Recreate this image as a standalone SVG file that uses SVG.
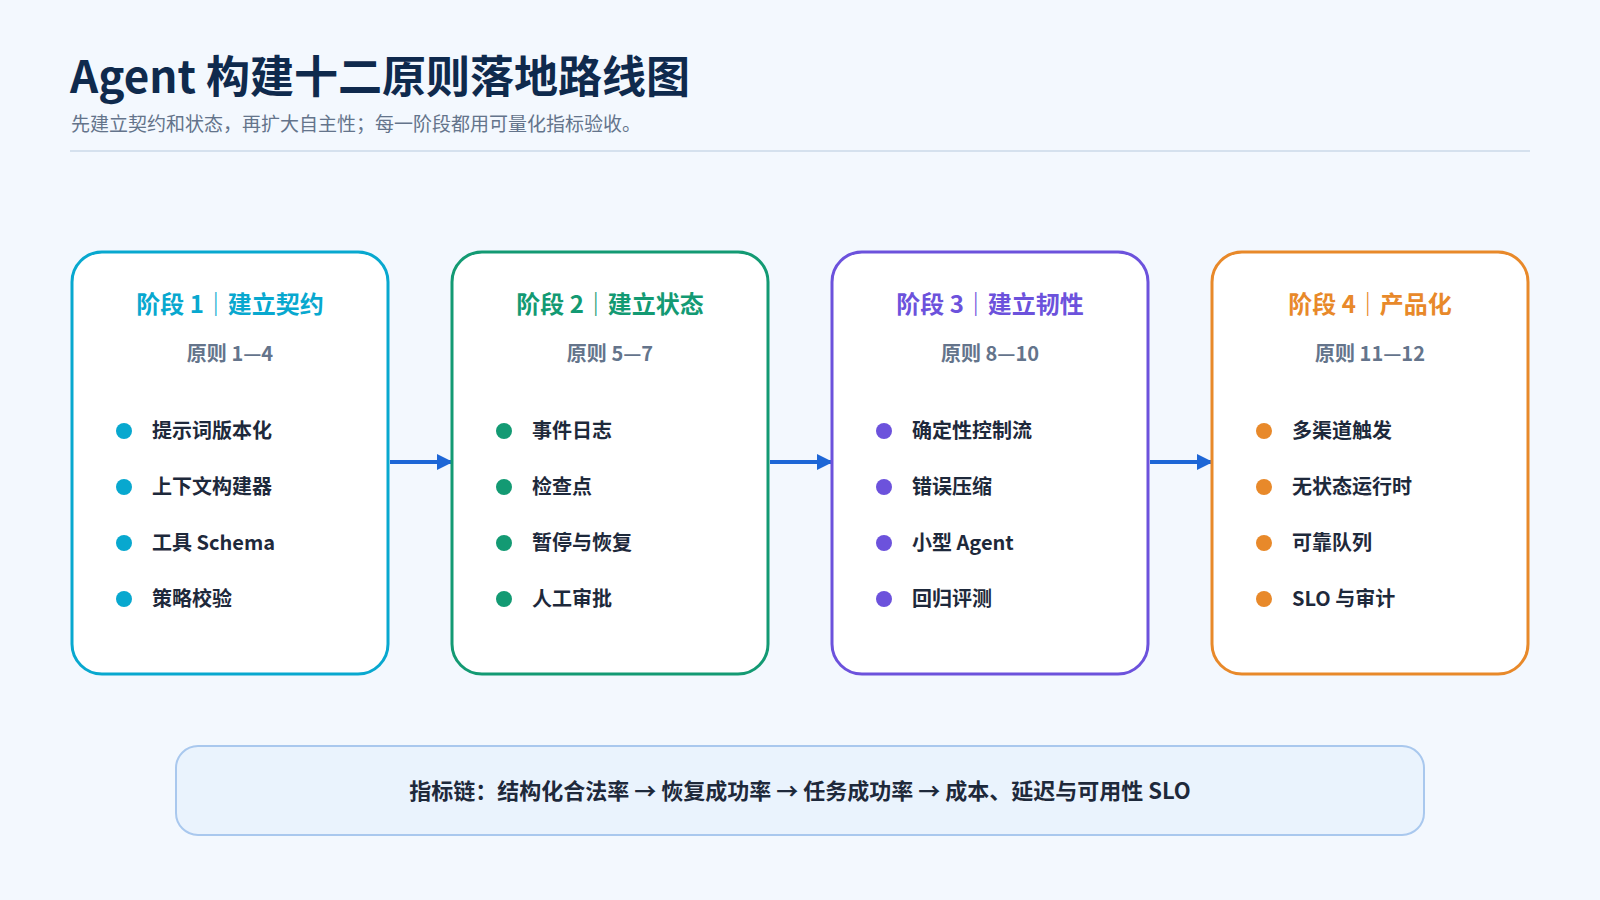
<svg xmlns="http://www.w3.org/2000/svg" width="1600" height="900" viewBox="0 0 1600 900">
<defs>
<marker id="ah" markerWidth="10" markerHeight="10" refX="9" refY="5" orient="auto" markerUnits="userSpaceOnUse"><path d="M0,0 L16,5 L0,10 Z" transform="scale(0.6,1)" fill="#1d66d6"/></marker>
<marker id="arr" markerWidth="16" markerHeight="16" refX="15" refY="8" orient="auto" markerUnits="userSpaceOnUse"><path d="M0,0 L16,8 L0,16 Z" fill="#1d66d6"/></marker>
<style>
text{font-family:"Noto Sans CJK SC","Inter",sans-serif}
.card{fill:#fff;stroke-width:3}
.ct{font-size:24px;font-weight:700;text-anchor:middle}
.cs{font-size:20px;font-weight:700;fill:#64748b;text-anchor:middle}
.it{font-size:20px;font-weight:700;fill:#1e293b}
.conn{stroke:#1d66d6;stroke-width:4;fill:none;marker-end:url(#arr)}
</style>
</defs>
<rect width="1600" height="900" fill="#f3f8fe"/>
<text x="70" y="93" font-size="44" font-weight="700" fill="#0f2a4d">Agent 构建十二原则落地路线图</text>
<text x="71" y="131" font-size="19" fill="#64748b">先建立契约和状态，再扩大自主性；每一阶段都用可量化指标验收。</text>
<line x1="70" y1="151" x2="1530" y2="151" stroke="#d5e1ee" stroke-width="2"/>
<g id="connectors">
<line class="conn" x1="390" y1="462" x2="452" y2="462"/>
<line class="conn" x1="770" y1="462" x2="832" y2="462"/>
<line class="conn" x1="1150" y1="462" x2="1212" y2="462"/>
</g>
<g id="stage1">
<rect class="card" x="72" y="252" width="316" height="422" rx="30" stroke="#08a8cf"/>
<text class="ct" x="230" y="313" fill="#08a8cf">阶段 1｜建立契约</text>
<text class="cs" x="230" y="361">原则 1—4</text>
<g fill="#08a8cf"><circle cx="124" cy="431" r="8"/><circle cx="124" cy="487" r="8"/><circle cx="124" cy="543" r="8"/><circle cx="124" cy="599" r="8"/></g>
<text class="it" x="152" y="438">提示词版本化</text><text class="it" x="152" y="494">上下文构建器</text><text class="it" x="152" y="550">工具 Schema</text><text class="it" x="152" y="606">策略校验</text>
</g>
<g id="stage2">
<rect class="card" x="452" y="252" width="316" height="422" rx="30" stroke="#139a73"/>
<text class="ct" x="610" y="313" fill="#139a73">阶段 2｜建立状态</text>
<text class="cs" x="610" y="361">原则 5—7</text>
<g fill="#139a73"><circle cx="504" cy="431" r="8"/><circle cx="504" cy="487" r="8"/><circle cx="504" cy="543" r="8"/><circle cx="504" cy="599" r="8"/></g>
<text class="it" x="532" y="438">事件日志</text><text class="it" x="532" y="494">检查点</text><text class="it" x="532" y="550">暂停与恢复</text><text class="it" x="532" y="606">人工审批</text>
</g>
<g id="stage3">
<rect class="card" x="832" y="252" width="316" height="422" rx="30" stroke="#6c52dc"/>
<text class="ct" x="990" y="313" fill="#6c52dc">阶段 3｜建立韧性</text>
<text class="cs" x="990" y="361">原则 8—10</text>
<g fill="#6c52dc"><circle cx="884" cy="431" r="8"/><circle cx="884" cy="487" r="8"/><circle cx="884" cy="543" r="8"/><circle cx="884" cy="599" r="8"/></g>
<text class="it" x="912" y="438">确定性控制流</text><text class="it" x="912" y="494">错误压缩</text><text class="it" x="912" y="550">小型 Agent</text><text class="it" x="912" y="606">回归评测</text>
</g>
<g id="stage4">
<rect class="card" x="1212" y="252" width="316" height="422" rx="30" stroke="#e8892a"/>
<text class="ct" x="1370" y="313" fill="#e8892a">阶段 4｜产品化</text>
<text class="cs" x="1370" y="361">原则 11—12</text>
<g fill="#e8892a"><circle cx="1264" cy="431" r="8"/><circle cx="1264" cy="487" r="8"/><circle cx="1264" cy="543" r="8"/><circle cx="1264" cy="599" r="8"/></g>
<text class="it" x="1292" y="438">多渠道触发</text><text class="it" x="1292" y="494">无状态运行时</text><text class="it" x="1292" y="550">可靠队列</text><text class="it" x="1292" y="606">SLO 与审计</text>
</g>
<g id="metrics">
<rect x="176" y="746" width="1248" height="89" rx="22" fill="#eaf3fd" stroke="#a9c8ee" stroke-width="2"/>
<text x="800" y="799" font-size="22" font-weight="700" fill="#1e293b" text-anchor="middle">指标链：结构化合法率 → 恢复成功率 → 任务成功率 → 成本、延迟与可用性 SLO</text>
</g>
</svg>
